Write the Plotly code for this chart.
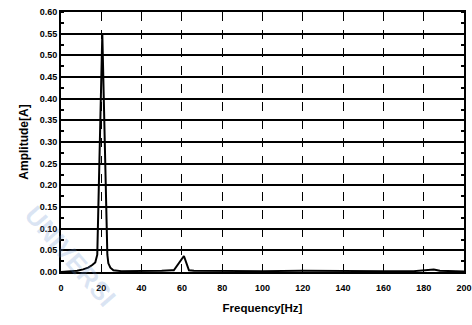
import plotly.graph_objects as go

freq = [0, 4, 8, 11, 13.5, 15.5, 17, 18, 20.5, 23, 23.5, 24.5, 26, 30, 40, 50, 55, 56, 61, 63.5, 66, 80, 100, 120, 140, 160, 175, 182, 185, 188, 200]
amp = [0, 0.001, 0.003, 0.006, 0.01, 0.016, 0.022, 0.04, 0.55, 0.04, 0.02, 0.01, 0.004, 0.002, 0.002, 0.003, 0.004, 0.004, 0.037, 0.004, 0.003, 0.002, 0.002, 0.003, 0.002, 0.002, 0.002, 0.004, 0.006, 0.003, 0.001]

x_ticks = list(range(0, 201, 20))
y_ticks = [round(i * 0.05, 2) for i in range(13)]
y_labels = [f"{v:.2f}" for v in y_ticks]

fig = go.Figure()
fig.add_trace(go.Scatter(x=freq, y=amp, mode="lines",
                         line=dict(color="black", width=2), showlegend=False))

fam = "Liberation Sans, Arial"
font = dict(family=fam, size=9, color="black")
fig.update_layout(
    width=472, height=325,
    margin=dict(l=61, r=8, t=12, b=53, autoexpand=False),
    paper_bgcolor="white", plot_bgcolor="white",
    xaxis=dict(range=[0, 200], tickvals=x_ticks, ticktext=[f"<b>{v}</b>" for v in x_ticks],
               showgrid=True, gridcolor="black", gridwidth=1, griddash="dash",
               showline=True, linecolor="black", linewidth=2, mirror=True,
               ticks="", tickfont=font, zeroline=False, ticklabelstandoff=6,
               title=dict(text="<b>Frequency[Hz]</b>", font=dict(family=fam, size=11.5, color="black"), standoff=12)),
    yaxis=dict(range=[0, 0.6], tickvals=y_ticks, ticktext=[f"<b>{t}</b>" for t in y_labels],
               showgrid=True, gridcolor="black", gridwidth=1.5,
               showline=True, linecolor="black", linewidth=2, mirror="allticks",
               ticks="", tickfont=font, zeroline=False,
               minor=dict(dtick=0.025, ticks="inside", ticklen=3, tickcolor="black", tickwidth=2, showgrid=False),
               title=dict(text="<b>Amplitude[A]</b>", font=dict(family=fam, size=12, color="black"), standoff=8)),
)
fig.add_annotation(text="<b>UNIVERSI</b>", xref="paper", yref="paper",
                   x=(70 - 61) / 403, y=(272 - 256) / 260, xanchor="center", yanchor="middle",
                   showarrow=False, textangle=49,
                   font=dict(family=fam, size=26, color="rgba(110,150,210,0.25)"))
fig.write_html("out.html")
